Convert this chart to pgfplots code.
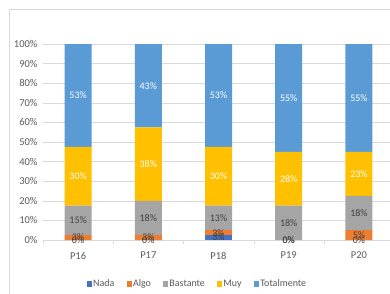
\documentclass[border=0pt]{standalone}
\usepackage{fontspec}
\setmainfont{Carlito}
\usepackage{pgfplots}
\pgfplotsset{compat=1.18}
\definecolor{cNada}{HTML}{4472C4}
\definecolor{cAlgo}{HTML}{ED7D31}
\definecolor{cBast}{HTML}{A5A5A5}
\definecolor{cMuy}{HTML}{FFC000}
\definecolor{cTot}{HTML}{5B9BD5}
\definecolor{txt}{HTML}{595959}
\definecolor{lbl}{HTML}{404040}
\definecolor{gridc}{HTML}{D9D9D9}
\pgfplotsset{
  mybar/.style={fill=#1, draw=none,
    legend image code/.code={\fill[#1] (0pt,-3pt) rectangle (4.5pt,3pt);}},
  common/.style={at={(43pt,53pt)}, anchor=south west,
    width=351pt, height=196pt, scale only axis,
    xmin=-0.5, xmax=4.5, ymin=0, ymax=100},
}
\begin{document}
\begin{tikzpicture}
\draw[gridc] (9pt,-20pt) rectangle (420pt,284pt);
\begin{axis}[common,
  ybar stacked, bar width=27pt,
  /pgf/number format/assume math mode=true,
  axis x line=bottom, axis y line=left,
  x axis line style={gridc,-},
  y axis line style={draw=none},
  xtick={0,1,2,3,4}, xticklabels={P16,P17,P18,P19,P20},
  minor xtick={-0.5,0.5,1.5,2.5,3.5,4.5},
  tick align=outside, major tick length=0pt, minor tick length=4pt,
  minor x tick style={gridc},
  ytick={0,10,...,100},
  yticklabel={\pgfmathprintnumber{\tick}\%},
  ytick style={draw=none},
  ymajorgrids, grid style={gridc},
  tick label style={text=txt, font=\fontsize{10.5}{12}\selectfont},
  xticklabel style={yshift=-8.5pt},
  yticklabel style={xshift=-2pt},
  legend columns=5,
  legend style={at={(0.44,-0.224)}, anchor=center, draw=none, fill=none,
    font=\fontsize{10}{12}\selectfont, text=txt,
    nodes={inner xsep=1.5pt},
    /tikz/every even column/.append style={column sep=11pt}},
]
\addplot[mybar=cNada] coordinates {(0,0) (1,0) (2,2.5) (3,0) (4,0)};
\addplot[mybar=cAlgo] coordinates {(0,2.5) (1,2.5) (2,2.5) (3,0) (4,5)};
\addplot[mybar=cBast] coordinates {(0,15) (1,17.5) (2,12.5) (3,17.5) (4,17.5)};
\addplot[mybar=cMuy] coordinates {(0,30) (1,37.5) (2,30) (3,27.5) (4,22.5)};
\addplot[mybar=cTot] coordinates {(0,52.5) (1,42.5) (2,52.5) (3,55) (4,55)};
\legend{Nada,Algo,Bastante,Muy,Totalmente}
\end{axis}
\begin{axis}[common, hide axis, clip=false,
  nodes near coords, point meta=explicit symbolic,
  every node near coord/.append style={anchor=center, inner sep=0pt,
    font=\fontsize{10}{12}\selectfont}]
\addplot[draw=none, every node near coord/.append style={text=lbl}]
  coordinates {(0,0)[0\%] (1,0)[0\%] (2,1.25)[3\%] (3,0)[0\%] (4,0)[0\%]};
\addplot[draw=none, every node near coord/.append style={text=lbl}]
  coordinates {(0,1.25)[3\%] (1,1.25)[3\%] (2,3.75)[3\%] (3,0)[0\%] (4,2.5)[5\%]};
\addplot[draw=none, every node near coord/.append style={text=lbl}]
  coordinates {(0,10)[15\%] (1,11.25)[18\%] (2,11.25)[13\%] (3,8.75)[18\%] (4,13.75)[18\%]};
\addplot[draw=none, every node near coord/.append style={text=white}]
  coordinates {(0,32.5)[30\%] (1,38.75)[38\%] (2,32.5)[30\%] (3,31.25)[28\%] (4,33.75)[23\%]};
\addplot[draw=none, every node near coord/.append style={text=white}]
  coordinates {(0,73.75)[53\%] (1,78.75)[43\%] (2,73.75)[53\%] (3,72.5)[55\%] (4,72.5)[55\%]};
\end{axis}
\pgfresetboundingbox
\path (0,0) rectangle (390pt,293pt);
\end{tikzpicture}
\end{document}
